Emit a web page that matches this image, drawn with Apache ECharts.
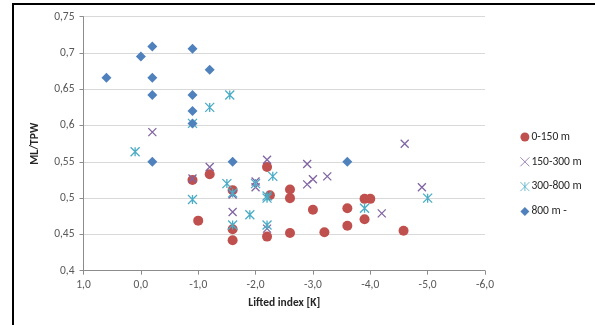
<!DOCTYPE html>
<html>
<head>
<meta charset="utf-8">
<script src="https://cdn.jsdelivr.net/npm/echarts@6/dist/echarts.min.js"></script>
<style>
  html, body { margin: 0; padding: 0; background: #fff; }
  #chart { width: 595px; height: 325px; }
</style>
</head>
<body>
<div id="chart"></div>
<script>
// x = lifted index [K], y = ML/TPW
var seriesNames = ['0-150 m', '150-300 m', '300-800 m', '800 m -'];

var low = [
  [-0.9, 0.525], [-1.2, 0.533], [-1.0, 0.469], [-1.6, 0.511], [-1.6, 0.457],
  [-1.6, 0.442], [-2.2, 0.543], [-2.25, 0.504], [-2.2, 0.447], [-2.6, 0.512],
  [-2.6, 0.5], [-2.6, 0.452], [-3.0, 0.484], [-3.2, 0.453], [-3.6, 0.486],
  [-3.6, 0.462], [-3.9, 0.499], [-4.0, 0.499], [-3.9, 0.471], [-4.58, 0.455]
];
var mid = [
  [-0.2, 0.591], [-1.2, 0.543], [-0.9, 0.527], [-1.6, 0.505], [-1.6, 0.481],
  [-2.0, 0.523], [-2.0, 0.515], [-2.2, 0.553], [-2.2, 0.458], [-2.9, 0.547],
  [-2.9, 0.519], [-3.0, 0.526], [-3.25, 0.53], [-4.2, 0.479], [-4.9, 0.515],
  [-4.6, 0.575]
];
var high = [
  [0.1, 0.564], [-0.9, 0.603], [-1.2, 0.625], [-1.55, 0.642], [-0.9, 0.498],
  [-1.5, 0.52], [-1.6, 0.507], [-1.6, 0.463], [-1.9, 0.477], [-2.0, 0.52],
  [-2.3, 0.53], [-2.2, 0.5], [-2.2, 0.503], [-2.2, 0.463], [-3.9, 0.486],
  [-5.0, 0.5]
];
var top800 = [
  [0.6, 0.666], [0.0, 0.695], [-0.2, 0.709], [-0.2, 0.666], [-0.2, 0.642],
  [-0.9, 0.706], [-1.2, 0.677], [-0.9, 0.642], [-0.9, 0.62], [-0.9, 0.603],
  [-0.2, 0.55], [-1.6, 0.55], [-3.6, 0.55]
];

var font = 'Carlito, Lato, sans-serif';
var comma = function (v) {
  return String(parseFloat(v.toFixed(2))).replace('.', ',');
};

var myChart = echarts.init(document.getElementById('chart'));
myChart.setOption({
  animation: false,
  textStyle: { fontFamily: font },
  graphic: [
    { type: 'line', shape: { x1: 12, y1: 4, x2: 595, y2: 4 }, style: { stroke: '#000', lineWidth: 2 } },
    { type: 'line', shape: { x1: 13, y1: 3, x2: 13, y2: 325 }, style: { stroke: '#000', lineWidth: 2 } }
  ],
  grid: { left: 83.5, right: 110, top: 16.7, bottom: 54.3 },
  legend: {
    orient: 'vertical',
    left: 515,
    top: 126,
    itemWidth: 9,
    itemHeight: 9,
    itemGap: 12.8,
    textStyle: { fontFamily: font, fontSize: 11.5, color: '#262626', padding: [0, 0, 0, -3] },
    data: [
      { name: seriesNames[0] },
      { name: seriesNames[1], itemStyle: { borderWidth: 0.8 } },
      { name: seriesNames[2], itemStyle: { borderWidth: 0.8 } },
      { name: seriesNames[3] }
    ]
  },
  xAxis: {
    type: 'value',
    inverse: true,
    min: -6,
    max: 1,
    interval: 1,
    name: 'Lifted index [K]',
    nameLocation: 'middle',
    nameGap: 26,
    nameTextStyle: { fontFamily: font, fontWeight: 'bold', fontSize: 11.5, color: '#262626' },
    axisLine: { onZero: false, lineStyle: { color: '#8c8c8c' } },
    axisTick: { show: true, length: 4, lineStyle: { color: '#8c8c8c' } },
    axisLabel: {
      fontFamily: font, fontSize: 11.5, color: '#595959', margin: 8,
      formatter: function (v) { return v.toFixed(1).replace('.', ','); }
    },
    splitLine: { show: false }
  },
  yAxis: {
    type: 'value',
    min: 0.4,
    max: 0.75,
    interval: 0.05,
    name: 'ML/TPW',
    nameLocation: 'middle',
    nameGap: 42,
    nameTextStyle: { fontFamily: font, fontWeight: 'bold', fontSize: 11.5, color: '#262626' },
    axisLine: { show: true, onZero: false, lineStyle: { color: '#8c8c8c' } },
    axisTick: { show: true, length: 4, lineStyle: { color: '#8c8c8c' } },
    axisLabel: { fontFamily: font, fontSize: 11.5, color: '#595959', margin: 9, formatter: comma },
    splitLine: { lineStyle: { color: '#d9d9d9', width: 1 } }
  },
  series: [
    {
      name: seriesNames[0],
      type: 'scatter',
      data: low,
      symbol: 'circle',
      symbolSize: 10,
      itemStyle: { color: '#C0504D', opacity: 1 }
    },
    {
      name: seriesNames[1],
      type: 'scatter',
      data: mid,
      symbol: 'path://M0,0L10,10M10,0L0,10',
      symbolSize: 8,
      itemStyle: { color: '#8064A2', borderColor: '#8064A2', borderWidth: 1.3, opacity: 1 }
    },
    {
      name: seriesNames[2],
      type: 'scatter',
      data: high,
      symbol: 'path://M0,0L10,10M10,0L0,10M5,0L5,10',
      symbolSize: 9,
      itemStyle: { color: '#4BACC6', borderColor: '#4BACC6', borderWidth: 1.3, opacity: 1 }
    },
    {
      name: seriesNames[3],
      type: 'scatter',
      data: top800,
      symbol: 'diamond',
      symbolSize: 10,
      itemStyle: { color: '#4F81BD', opacity: 1 }
    }
  ]
});
</script>
</body>
</html>
